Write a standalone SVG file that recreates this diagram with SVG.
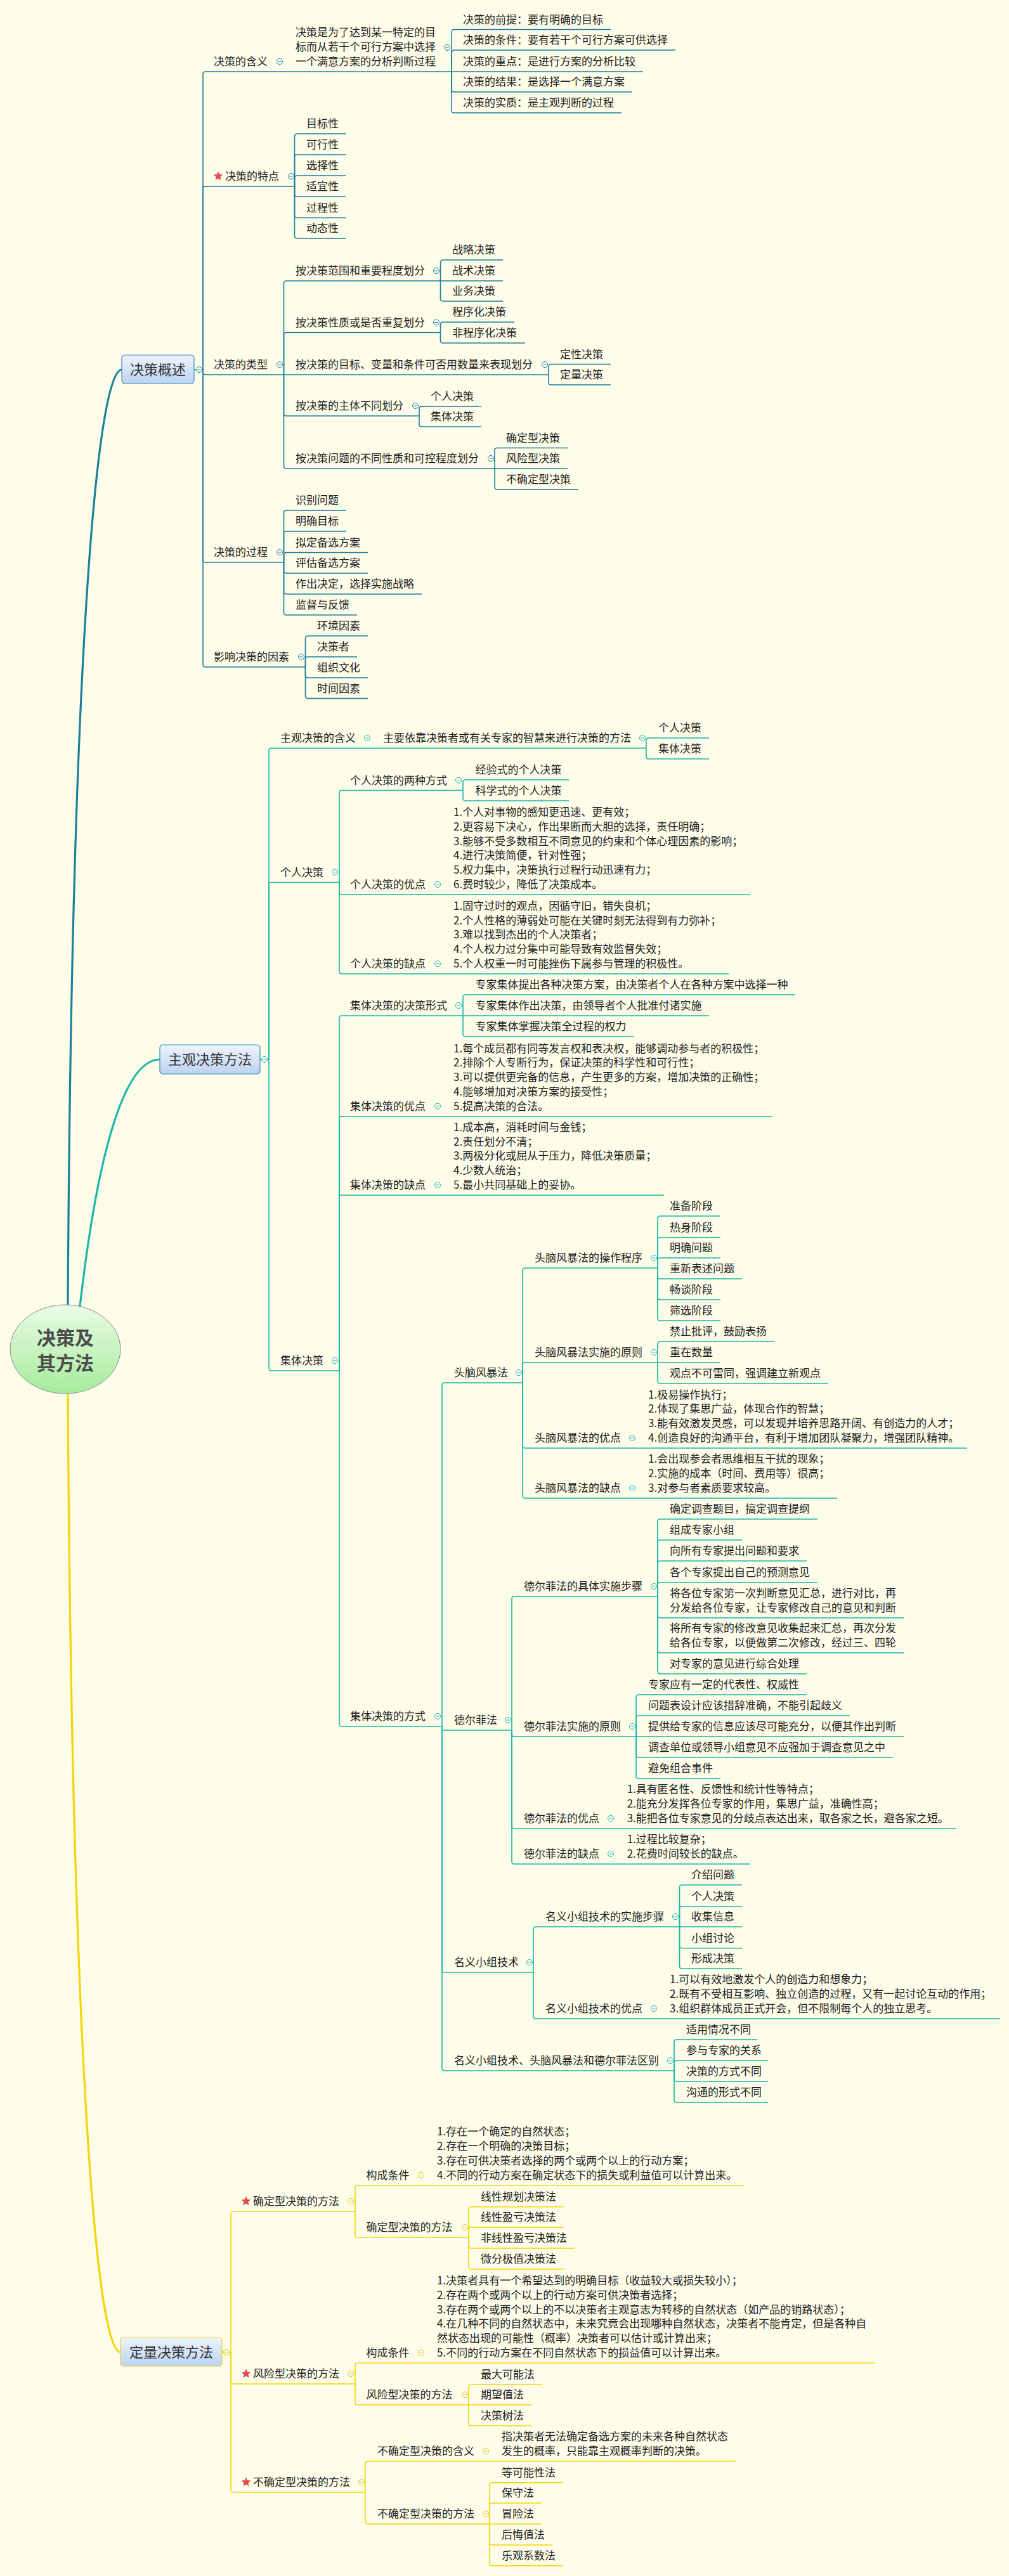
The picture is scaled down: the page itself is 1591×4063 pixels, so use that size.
<svg xmlns="http://www.w3.org/2000/svg" xmlns:xlink="http://www.w3.org/1999/xlink" width="1591" height="4063" viewBox="0 0 1591 4063">
<defs>
<style>
.t{font-family:'Noto Sans CJK SC','Noto Sans',sans-serif;font-size:17px;fill:#222}
.bt{font-family:'Noto Sans CJK SC','Noto Sans',sans-serif;font-size:22px;fill:#333;text-anchor:middle}
.rt{font-family:'Noto Sans CJK SC','Noto Sans',sans-serif;font-size:30px;font-weight:bold;fill:#4d4d4d;text-anchor:middle}
.c1{fill:none;stroke:#1d7f9c;stroke-width:1.6}
.c2{fill:none;stroke:#1cb5a6;stroke-width:1.6}
.c3{fill:none;stroke:#f7d40a;stroke-width:1.6}
.k1{color:#1d7f9c}.k2{color:#1cb5a6}.k3{color:#e8c400}
.st{fill:#e94848;stroke:#c83030;stroke-width:0.6}
</style>
<linearGradient id="gb" x1="0" y1="0" x2="0" y2="1"><stop offset="0" stop-color="#eef4fd"/><stop offset="1" stop-color="#bcd3f1"/></linearGradient>
<linearGradient id="gr" x1="0" y1="0" x2="0" y2="1"><stop offset="0" stop-color="#eafbe6"/><stop offset="1" stop-color="#a6ec9c"/></linearGradient>
<g id="tg"><circle r="4.5" fill="#fbfdf6" stroke="currentColor" stroke-width="1"/><path d="M-2.5,0H2.5" stroke="currentColor" stroke-width="1"/></g>
<polygon id="star" points="0,-7 1.76,-2.43 6.66,-2.16 2.85,0.93 4.11,5.66 0,3 -4.11,5.66 -2.85,0.93 -6.66,-2.16 -1.76,-2.43"/>
</defs>
<rect width="1591" height="4063" fill="#fdfde9"/>

<g id="connectors">
<path d="M107,2058C113,1000 155,583 192,583" fill="none" stroke="#1d7f9c" stroke-width="3.2"/>
<path d="M126,2061C150,1850 190,1671 252,1671" fill="none" stroke="#1cb5a6" stroke-width="3.2"/>
<path d="M107,2198C113,3200 150,3710 190,3710" fill="none" stroke="#f7d40a" stroke-width="3.2"/>
<g class="c1">
<path d="M306,583H320"/>
<path d="M320,583V117Q320,113 324,113H447"/>
<path d="M447,113H712"/>
<path d="M712,113V50.5Q712,46.5 716,46.5H963"/>
<path d="M712,113V83Q712,79 716,79H1065"/>
<path d="M712,113H1014"/>
<path d="M712,113V141Q712,145 716,145H997"/>
<path d="M712,113V174Q712,178 716,178H980"/>
<path d="M320,583V298Q320,294 324,294H464.5"/>
<path d="M464.5,294V215Q464.5,211 468.5,211H545.5"/>
<path d="M464.5,294V248Q464.5,244 468.5,244H545.5"/>
<path d="M464.5,294V281Q464.5,277 468.5,277H545.5"/>
<path d="M464.5,294V306Q464.5,310 468.5,310H545.5"/>
<path d="M464.5,294V339.5Q464.5,343.5 468.5,343.5H545.5"/>
<path d="M464.5,294V372Q464.5,376 468.5,376H545.5"/>
<path d="M320,583V587Q320,591 324,591H447.5"/>
<path d="M447.5,591V447Q447.5,443 451.5,443H694.5"/>
<path d="M447.5,591V528.5Q447.5,524.5 451.5,524.5H694.5"/>
<path d="M447.5,591H865"/>
<path d="M447.5,591V652Q447.5,656 451.5,656H661"/>
<path d="M447.5,591V735Q447.5,739 451.5,739H780"/>
<path d="M694.5,443V414Q694.5,410 698.5,410H793"/>
<path d="M694.5,443H793"/>
<path d="M694.5,443V471Q694.5,475 698.5,475H793"/>
<path d="M694.5,524.5V512Q694.5,508 698.5,508H811"/>
<path d="M694.5,524.5V537Q694.5,541 698.5,541H828"/>
<path d="M865,591V578.5Q865,574.5 869,574.5H963"/>
<path d="M865,591V603Q865,607 869,607H963"/>
<path d="M661,656V645Q661,641 665,641H759"/>
<path d="M661,656V669Q661,673 665,673H759"/>
<path d="M780,739V710.5Q780,706.5 784,706.5H895"/>
<path d="M780,739H895"/>
<path d="M780,739V768Q780,772 784,772H912"/>
<path d="M320,583V883Q320,887 324,887H447.5"/>
<path d="M447.5,887V809Q447.5,805 451.5,805H546"/>
<path d="M447.5,887V842Q447.5,838 451.5,838H546"/>
<path d="M447.5,887V875.5Q447.5,871.5 451.5,871.5H580"/>
<path d="M447.5,887V900Q447.5,904 451.5,904H580"/>
<path d="M447.5,887V933Q447.5,937 451.5,937H665"/>
<path d="M447.5,887V966Q447.5,970 451.5,970H563"/>
<path d="M320,583V1048Q320,1052 324,1052H481.5"/>
<path d="M481.5,1052V1007Q481.5,1003 485.5,1003H580"/>
<path d="M481.5,1052V1040Q481.5,1036 485.5,1036H563"/>
<path d="M481.5,1052V1065Q481.5,1069 485.5,1069H580"/>
<path d="M481.5,1052V1097.6Q481.5,1101.6 485.5,1101.6H580"/>
</g>
<g class="c2">
<path d="M410,1671H424"/>
<path d="M424,1671V1184Q424,1180 428,1180H585"/>
<path d="M585,1180H1019"/>
<path d="M1019,1180V1168Q1019,1164 1023,1164H1118"/>
<path d="M1019,1180V1193Q1019,1197 1023,1197H1118"/>
<path d="M424,1671V1395.6Q424,1391.6 428,1391.6H535"/>
<path d="M535,1391.6V1250.6Q535,1246.6 539,1246.6H730"/>
<path d="M730,1246.6V1234Q730,1230 734,1230H897"/>
<path d="M730,1246.6V1259Q730,1263 734,1263H897"/>
<path d="M535,1391.6V1407Q535,1411 539,1411H1183"/>
<path d="M535,1391.6V1532Q535,1536 539,1536H1149"/>
<path d="M424,1671V2158Q424,2162 428,2162H535"/>
<path d="M535,2162V1606Q535,1602 539,1602H730"/>
<path d="M730,1602V1573Q730,1569 734,1569H1254"/>
<path d="M730,1602H1118"/>
<path d="M730,1602V1631Q730,1635 734,1635H1000"/>
<path d="M535,2162V1764.7Q535,1760.7 539,1760.7H1218"/>
<path d="M535,2162V1889Q535,1885 539,1885H1047"/>
<path d="M535,2162V2719Q535,2723 539,2723H697"/>
<path d="M697,2723V2185Q697,2181 701,2181H824"/>
<path d="M824,2181V2004Q824,2000 828,2000H1037"/>
<path d="M1037,2000V1922Q1037,1918 1041,1918H1136"/>
<path d="M1037,2000V1955.7Q1037,1951.7 1041,1951.7H1136"/>
<path d="M1037,2000V1988Q1037,1984 1041,1984H1136"/>
<path d="M1037,2000V2013Q1037,2017 1041,2017H1170"/>
<path d="M1037,2000V2046Q1037,2050 1041,2050H1136"/>
<path d="M1037,2000V2079Q1037,2083 1041,2083H1136"/>
<path d="M824,2181V2153Q824,2149 828,2149H1037"/>
<path d="M1037,2149V2120Q1037,2116 1041,2116H1221"/>
<path d="M1037,2149H1136"/>
<path d="M1037,2149V2178Q1037,2182 1041,2182H1306"/>
<path d="M824,2181V2280Q824,2284 828,2284H1525"/>
<path d="M824,2181V2359Q824,2363 828,2363H1320"/>
<path d="M697,2723V2725Q697,2729 701,2729H807"/>
<path d="M807,2729V2522Q807,2518 811,2518H1037"/>
<path d="M1037,2518V2400Q1037,2396 1041,2396H1289"/>
<path d="M1037,2518V2433Q1037,2429 1041,2429H1170"/>
<path d="M1037,2518V2466Q1037,2462 1041,2462H1272"/>
<path d="M1037,2518V2499.7Q1037,2495.7 1041,2495.7H1289"/>
<path d="M1037,2518V2547.7Q1037,2551.7 1041,2551.7H1425"/>
<path d="M1037,2518V2603Q1037,2607 1041,2607H1425"/>
<path d="M1037,2518V2636Q1037,2640 1041,2640H1272"/>
<path d="M807,2729V2735Q807,2739 811,2739H1003"/>
<path d="M1003,2739V2677Q1003,2673 1007,2673H1272"/>
<path d="M1003,2739V2710Q1003,2706 1007,2706H1340"/>
<path d="M1003,2739H1425"/>
<path d="M1003,2739V2768Q1003,2772 1007,2772H1408"/>
<path d="M1003,2739V2801Q1003,2805 1007,2805H1136"/>
<path d="M807,2729V2880Q807,2884 811,2884H1508"/>
<path d="M807,2729V2936Q807,2940 811,2940H1183"/>
<path d="M697,2723V3107Q697,3111 701,3111H841"/>
<path d="M841,3111V3043Q841,3039 845,3039H1071.5"/>
<path d="M1071.5,3039V2977Q1071.5,2973 1075.5,2973H1170"/>
<path d="M1071.5,3039V3010.7Q1071.5,3006.7 1075.5,3006.7H1170"/>
<path d="M1071.5,3039H1170"/>
<path d="M1071.5,3039V3068.7Q1071.5,3072.7 1075.5,3072.7H1170"/>
<path d="M1071.5,3039V3101Q1071.5,3105 1075.5,3105H1170"/>
<path d="M841,3111V3180Q841,3184 845,3184H1577"/>
<path d="M697,2723V3262Q697,3266 701,3266H1063"/>
<path d="M1063,3266V3221Q1063,3217 1067,3217H1194"/>
<path d="M1063,3266V3254Q1063,3250 1067,3250H1211"/>
<path d="M1063,3266V3279Q1063,3283 1067,3283H1211"/>
<path d="M1063,3266V3312Q1063,3316 1067,3316H1211"/>
</g>
<g class="c3">
<path d="M350,3710H364"/>
<path d="M364,3710V3492Q364,3488 368,3488H560"/>
<path d="M560,3488V3450.7Q560,3446.7 564,3446.7H1173"/>
<path d="M560,3488V3525Q560,3529 564,3529H739"/>
<path d="M739,3529V3484.7Q739,3480.7 743,3480.7H889"/>
<path d="M739,3529V3517Q739,3513 743,3513H889"/>
<path d="M739,3529V3542Q739,3546 743,3546H906"/>
<path d="M739,3529V3575Q739,3579 743,3579H889"/>
<path d="M364,3710V3756Q364,3760 368,3760H560"/>
<path d="M560,3760V3731Q560,3727 564,3727H1380"/>
<path d="M560,3760V3789Q560,3793 564,3793H739"/>
<path d="M739,3793V3764.7Q739,3760.7 743,3760.7H855"/>
<path d="M739,3793H838"/>
<path d="M739,3793V3822Q739,3826 743,3826H838"/>
<path d="M364,3710V3927Q364,3931 368,3931H576"/>
<path d="M576,3931V3886Q576,3882 580,3882H1160"/>
<path d="M576,3931V3977Q576,3981 580,3981H772"/>
<path d="M772,3981V3919.7Q772,3915.7 776,3915.7H888"/>
<path d="M772,3981V3952Q772,3948 776,3948H854"/>
<path d="M772,3981H854"/>
<path d="M772,3981V4010Q772,4014 776,4014H871"/>
<path d="M772,3981V4042.7Q772,4046.7 776,4046.7H888"/>
</g>
</g>

<g id="root">
<ellipse cx="103" cy="2128" rx="87" ry="70" fill="url(#gr)" stroke="#8c8c8c" stroke-width="1"/>
<text class="rt" x="103" y="2121">决策及</text>
<text class="rt" x="103" y="2161">其方法</text>
</g>

<!-- Section 1 -->
<g id="n1"><rect x="192" y="560" width="114" height="45" rx="5" fill="url(#gb)" stroke="#3c8dbc" stroke-width="1.2"/><text class="bt" x="249" y="591">决策概述</text><use href="#tg" x="314" y="583" class="k1"/></g>
<g id="n1-1"><text class="t" x="337" y="103">决策的含义</text><use href="#tg" x="441" y="97" class="k1"/></g>
<g id="n1-1-1"><text class="t"><tspan x="466" y="57">决策是为了达到某一特定的目</tspan><tspan x="466" y="80">标而从若干个可行方案中选择</tspan><tspan x="466" y="103">一个满意方案的分析判断过程</tspan></text><use href="#tg" x="705" y="75" class="k1"/></g>
<g id="n1-1-1-1"><text class="t" x="730" y="37">决策的前提：要有明确的目标</text></g>
<g id="n1-1-1-2"><text class="t" x="730" y="69">决策的条件：要有若干个可行方案可供选择</text></g>
<g id="n1-1-1-3"><text class="t" x="730" y="103">决策的重点：是进行方案的分析比较</text></g>
<g id="n1-1-1-4"><text class="t" x="730" y="135">决策的结果：是选择一个满意方案</text></g>
<g id="n1-1-1-5"><text class="t" x="730" y="168">决策的实质：是主观判断的过程</text></g>
<g id="n1-2"><use href="#star" x="344" y="278" class="st"/><text class="t" x="355" y="284">决策的特点</text><use href="#tg" x="459" y="278" class="k1"/></g>
<g id="n1-2-1"><text class="t" x="483" y="201">目标性</text></g>
<g id="n1-2-2"><text class="t" x="483" y="234">可行性</text></g>
<g id="n1-2-3"><text class="t" x="483" y="267">选择性</text></g>
<g id="n1-2-4"><text class="t" x="483" y="300">适宜性</text></g>
<g id="n1-2-5"><text class="t" x="483" y="333.5">过程性</text></g>
<g id="n1-2-6"><text class="t" x="483" y="366">动态性</text></g>
<g id="n1-3"><text class="t" x="337" y="581">决策的类型</text><use href="#tg" x="441" y="575" class="k1"/></g>
<g id="n1-3-1"><text class="t" x="466" y="433">按决策范围和重要程度划分</text><use href="#tg" x="688" y="427" class="k1"/></g>
<g id="n1-3-1-1"><text class="t" x="713" y="400">战略决策</text></g>
<g id="n1-3-1-2"><text class="t" x="713" y="433">战术决策</text></g>
<g id="n1-3-1-3"><text class="t" x="713" y="465">业务决策</text></g>
<g id="n1-3-2"><text class="t" x="466" y="514.5">按决策性质或是否重复划分</text><use href="#tg" x="688" y="508.5" class="k1"/></g>
<g id="n1-3-2-1"><text class="t" x="713" y="498">程序化决策</text></g>
<g id="n1-3-2-2"><text class="t" x="713" y="531">非程序化决策</text></g>
<g id="n1-3-3"><text class="t" x="466" y="581">按决策的目标、变量和条件可否用数量来表现划分</text><use href="#tg" x="859" y="575" class="k1"/></g>
<g id="n1-3-3-1"><text class="t" x="883" y="564.5">定性决策</text></g>
<g id="n1-3-3-2"><text class="t" x="883" y="597">定量决策</text></g>
<g id="n1-3-4"><text class="t" x="466" y="646">按决策的主体不同划分</text><use href="#tg" x="655" y="640" class="k1"/></g>
<g id="n1-3-4-1"><text class="t" x="679" y="631">个人决策</text></g>
<g id="n1-3-4-2"><text class="t" x="679" y="663">集体决策</text></g>
<g id="n1-3-5"><text class="t" x="466" y="729">按决策问题的不同性质和可控程度划分</text><use href="#tg" x="774" y="723" class="k1"/></g>
<g id="n1-3-5-1"><text class="t" x="798" y="696.5">确定型决策</text></g>
<g id="n1-3-5-2"><text class="t" x="798" y="729">风险型决策</text></g>
<g id="n1-3-5-3"><text class="t" x="798" y="762">不确定型决策</text></g>
<g id="n1-4"><text class="t" x="337" y="877">决策的过程</text><use href="#tg" x="441" y="871" class="k1"/></g>
<g id="n1-4-1"><text class="t" x="466" y="795">识别问题</text></g>
<g id="n1-4-2"><text class="t" x="466" y="828">明确目标</text></g>
<g id="n1-4-3"><text class="t" x="466" y="861.5">拟定备选方案</text></g>
<g id="n1-4-4"><text class="t" x="466" y="894">评估备选方案</text></g>
<g id="n1-4-5"><text class="t" x="466" y="927">作出决定，选择实施战略</text></g>
<g id="n1-4-6"><text class="t" x="466" y="960">监督与反馈</text></g>
<g id="n1-5"><text class="t" x="337" y="1042">影响决策的因素</text><use href="#tg" x="475" y="1036" class="k1"/></g>
<g id="n1-5-1"><text class="t" x="500" y="993">环境因素</text></g>
<g id="n1-5-2"><text class="t" x="500" y="1026">决策者</text></g>
<g id="n1-5-3"><text class="t" x="500" y="1059">组织文化</text></g>
<g id="n1-5-4"><text class="t" x="500" y="1091.6">时间因素</text></g>

<!-- Section 2 -->
<g id="n2"><rect x="252" y="1648" width="158" height="46" rx="5" fill="url(#gb)" stroke="#3c8dbc" stroke-width="1.2"/><text class="bt" x="331" y="1679">主观决策方法</text><use href="#tg" x="417" y="1671" class="k2"/></g>
<g id="n2-1"><text class="t" x="442" y="1170">主观决策的含义</text><use href="#tg" x="579" y="1164" class="k2"/></g>
<g id="n2-1-1"><text class="t" x="604" y="1170">主要依靠决策者或有关专家的智慧来进行决策的方法</text><use href="#tg" x="1013" y="1164" class="k2"/></g>
<g id="n2-1-1-1"><text class="t" x="1038" y="1154">个人决策</text></g>
<g id="n2-1-1-2"><text class="t" x="1038" y="1187">集体决策</text></g>
<g id="n2-2"><text class="t" x="442" y="1381.6">个人决策</text><use href="#tg" x="528" y="1375.6" class="k2"/></g>
<g id="n2-2-1"><text class="t" x="552" y="1236.6">个人决策的两种方式</text><use href="#tg" x="723" y="1230.6" class="k2"/></g>
<g id="n2-2-1-1"><text class="t" x="749.5" y="1220">经验式的个人决策</text></g>
<g id="n2-2-1-2"><text class="t" x="749.5" y="1253">科学式的个人决策</text></g>
<g id="n2-2-2"><text class="t" x="552" y="1401">个人决策的优点</text><use href="#tg" x="690" y="1395" class="k2"/></g>
<g id="n2-2-2-1"><text class="t"><tspan x="715" y="1287">1.个人对事物的感知更迅速、更有效；</tspan><tspan x="715" y="1309.8">2.更容易下决心，作出果断而大胆的选择，责任明确；</tspan><tspan x="715" y="1332.6">3.能够不受多数相互不同意见的约束和个体心理因素的影响；</tspan><tspan x="715" y="1355.4">4.进行决策简便，针对性强；</tspan><tspan x="715" y="1378.2">5.权力集中，决策执行过程行动迅速有力；</tspan><tspan x="715" y="1401">6.费时较少，降低了决策成本。</tspan></text></g>
<g id="n2-2-3"><text class="t" x="552" y="1526">个人决策的缺点</text><use href="#tg" x="690" y="1520" class="k2"/></g>
<g id="n2-2-3-1"><text class="t"><tspan x="715" y="1434.8">1.固守过时的观点，因循守旧，错失良机；</tspan><tspan x="715" y="1457.6">2.个人性格的薄弱处可能在关键时刻无法得到有力弥补；</tspan><tspan x="715" y="1480.4">3.难以找到杰出的个人决策者；</tspan><tspan x="715" y="1503.2">4.个人权力过分集中可能导致有效监督失效；</tspan><tspan x="715" y="1526">5.个人权重一时可能挫伤下属参与管理的积极性。</tspan></text></g>
<g id="n2-3"><text class="t" x="442" y="2152">集体决策</text><use href="#tg" x="528" y="2146" class="k2"/></g>
<g id="n2-3-1"><text class="t" x="552" y="1592">集体决策的决策形式</text><use href="#tg" x="723" y="1586" class="k2"/></g>
<g id="n2-3-1-1"><text class="t" x="749.5" y="1559">专家集体提出各种决策方案，由决策者个人在各种方案中选择一种</text></g>
<g id="n2-3-1-2"><text class="t" x="749.5" y="1592">专家集体作出决策，由领导者个人批准付诸实施</text></g>
<g id="n2-3-1-3"><text class="t" x="749.5" y="1625">专家集体掌握决策全过程的权力</text></g>
<g id="n2-3-2"><text class="t" x="552" y="1750.7">集体决策的优点</text><use href="#tg" x="690" y="1744.7" class="k2"/></g>
<g id="n2-3-2-1"><text class="t"><tspan x="715" y="1659.5">1.每个成员都有同等发言权和表决权，能够调动参与者的积极性；</tspan><tspan x="715" y="1682.3">2.排除个人专断行为，保证决策的科学性和可行性；</tspan><tspan x="715" y="1705.1">3.可以提供更完备的信息，产生更多的方案，增加决策的正确性；</tspan><tspan x="715" y="1727.9">4.能够增加对决策方案的接受性；</tspan><tspan x="715" y="1750.7">5.提高决策的合法。</tspan></text></g>
<g id="n2-3-3"><text class="t" x="552" y="1875">集体决策的缺点</text><use href="#tg" x="690" y="1869" class="k2"/></g>
<g id="n2-3-3-1"><text class="t"><tspan x="715" y="1783.8">1.成本高，消耗时间与金钱；</tspan><tspan x="715" y="1806.6">2.责任划分不清；</tspan><tspan x="715" y="1829.4">3.两极分化或屈从于压力，降低决策质量；</tspan><tspan x="715" y="1852.2">4.少数人统治；</tspan><tspan x="715" y="1875">5.最小共同基础上的妥协。</tspan></text></g>
<g id="n2-3-4"><text class="t" x="552" y="2713">集体决策的方式</text><use href="#tg" x="690" y="2707" class="k2"/></g>
<g id="n2-3-4-1"><text class="t" x="716" y="2171">头脑风暴法</text><use href="#tg" x="818" y="2165" class="k2"/></g>
<g id="n2-3-4-1-1"><text class="t" x="843" y="1990">头脑风暴法的操作程序</text><use href="#tg" x="1031" y="1984" class="k2"/></g>
<g id="n2-3-4-1-1-1"><text class="t" x="1056" y="1908">准备阶段</text></g>
<g id="n2-3-4-1-1-2"><text class="t" x="1056" y="1941.7">热身阶段</text></g>
<g id="n2-3-4-1-1-3"><text class="t" x="1056" y="1974">明确问题</text></g>
<g id="n2-3-4-1-1-4"><text class="t" x="1056" y="2007">重新表述问题</text></g>
<g id="n2-3-4-1-1-5"><text class="t" x="1056" y="2040">畅谈阶段</text></g>
<g id="n2-3-4-1-1-6"><text class="t" x="1056" y="2073">筛选阶段</text></g>
<g id="n2-3-4-1-2"><text class="t" x="843" y="2139">头脑风暴法实施的原则</text><use href="#tg" x="1031" y="2133" class="k2"/></g>
<g id="n2-3-4-1-2-1"><text class="t" x="1056" y="2106">禁止批评，鼓励表扬</text></g>
<g id="n2-3-4-1-2-2"><text class="t" x="1056" y="2139">重在数量</text></g>
<g id="n2-3-4-1-2-3"><text class="t" x="1056" y="2172">观点不可雷同，强调建立新观点</text></g>
<g id="n2-3-4-1-3"><text class="t" x="843" y="2274">头脑风暴法的优点</text><use href="#tg" x="997" y="2268" class="k2"/></g>
<g id="n2-3-4-1-3-1"><text class="t"><tspan x="1022" y="2205.6">1.极易操作执行；</tspan><tspan x="1022" y="2228.4">2.体现了集思广益，体现合作的智慧；</tspan><tspan x="1022" y="2251.2">3.能有效激发灵感，可以发现并培养思路开阔、有创造力的人才；</tspan><tspan x="1022" y="2274">4.创造良好的沟通平台，有利于增加团队凝聚力，增强团队精神。</tspan></text></g>
<g id="n2-3-4-1-4"><text class="t" x="843" y="2353">头脑风暴法的缺点</text><use href="#tg" x="997" y="2347" class="k2"/></g>
<g id="n2-3-4-1-4-1"><text class="t"><tspan x="1022" y="2307.4">1.会出现参会者思维相互干扰的现象；</tspan><tspan x="1022" y="2330.2">2.实施的成本（时间、费用等）很高；</tspan><tspan x="1022" y="2353">3.对参与者素质要求较高。</tspan></text></g>
<g id="n2-3-4-2"><text class="t" x="716" y="2719">德尔菲法</text><use href="#tg" x="801" y="2713" class="k2"/></g>
<g id="n2-3-4-2-1"><text class="t" x="826" y="2508">德尔菲法的具体实施步骤</text><use href="#tg" x="1031" y="2502" class="k2"/></g>
<g id="n2-3-4-2-1-1"><text class="t" x="1056" y="2386">确定调查题目，搞定调查提纲</text></g>
<g id="n2-3-4-2-1-2"><text class="t" x="1056" y="2419">组成专家小组</text></g>
<g id="n2-3-4-2-1-3"><text class="t" x="1056" y="2452">向所有专家提出问题和要求</text></g>
<g id="n2-3-4-2-1-4"><text class="t" x="1056" y="2485.7">各个专家提出自己的预测意见</text></g>
<g id="n2-3-4-2-1-5"><text class="t"><tspan x="1056" y="2518.9">将各位专家第一次判断意见汇总，进行对比，再</tspan><tspan x="1056" y="2541.7">分发给各位专家，让专家修改自己的意见和判断</tspan></text></g>
<g id="n2-3-4-2-1-6"><text class="t"><tspan x="1056" y="2574.2">将所有专家的修改意见收集起来汇总，再次分发</tspan><tspan x="1056" y="2597">给各位专家，以便做第二次修改，经过三、四轮</tspan></text></g>
<g id="n2-3-4-2-1-7"><text class="t" x="1056" y="2630">对专家的意见进行综合处理</text></g>
<g id="n2-3-4-2-2"><text class="t" x="826" y="2729">德尔菲法实施的原则</text><use href="#tg" x="997" y="2723" class="k2"/></g>
<g id="n2-3-4-2-2-1"><text class="t" x="1022" y="2663">专家应有一定的代表性、权威性</text></g>
<g id="n2-3-4-2-2-2"><text class="t" x="1022" y="2696">问题表设计应该措辞准确，不能引起歧义</text></g>
<g id="n2-3-4-2-2-3"><text class="t" x="1022" y="2729">提供给专家的信息应该尽可能充分，以便其作出判断</text></g>
<g id="n2-3-4-2-2-4"><text class="t" x="1022" y="2762">调查单位或领导小组意见不应强加于调查意见之中</text></g>
<g id="n2-3-4-2-2-5"><text class="t" x="1022" y="2795">避免组合事件</text></g>
<g id="n2-3-4-2-3"><text class="t" x="826" y="2874">德尔菲法的优点</text><use href="#tg" x="963" y="2868" class="k2"/></g>
<g id="n2-3-4-2-3-1"><text class="t"><tspan x="988.7" y="2828.4">1.具有匿名性、反馈性和统计性等特点；</tspan><tspan x="988.7" y="2851.2">2.能充分发挥各位专家的作用，集思广益，准确性高；</tspan><tspan x="988.7" y="2874">3.能把各位专家意见的分歧点表达出来，取各家之长，避各家之短。</tspan></text></g>
<g id="n2-3-4-2-4"><text class="t" x="826" y="2930">德尔菲法的缺点</text><use href="#tg" x="963" y="2924" class="k2"/></g>
<g id="n2-3-4-2-4-1"><text class="t"><tspan x="988.7" y="2907.2">1.过程比较复杂；</tspan><tspan x="988.7" y="2930">2.花费时间较长的缺点。</tspan></text></g>
<g id="n2-3-4-3"><text class="t" x="716" y="3101">名义小组技术</text><use href="#tg" x="835" y="3095" class="k2"/></g>
<g id="n2-3-4-3-1"><text class="t" x="860" y="3029">名义小组技术的实施步骤</text><use href="#tg" x="1065" y="3023" class="k2"/></g>
<g id="n2-3-4-3-1-1"><text class="t" x="1090" y="2963">介绍问题</text></g>
<g id="n2-3-4-3-1-2"><text class="t" x="1090" y="2996.7">个人决策</text></g>
<g id="n2-3-4-3-1-3"><text class="t" x="1090" y="3029">收集信息</text></g>
<g id="n2-3-4-3-1-4"><text class="t" x="1090" y="3062.7">小组讨论</text></g>
<g id="n2-3-4-3-1-5"><text class="t" x="1090" y="3095">形成决策</text></g>
<g id="n2-3-4-3-2"><text class="t" x="860" y="3174">名义小组技术的优点</text><use href="#tg" x="1031" y="3168" class="k2"/></g>
<g id="n2-3-4-3-2-1"><text class="t"><tspan x="1056" y="3128.4">1.可以有效地激发个人的创造力和想象力；</tspan><tspan x="1056" y="3151.2">2.既有不受相互影响、独立创造的过程，又有一起讨论互动的作用；</tspan><tspan x="1056" y="3174">3.组织群体成员正式开会，但不限制每个人的独立思考。</tspan></text></g>
<g id="n2-3-4-4"><text class="t" x="716" y="3256">名义小组技术、头脑风暴法和德尔菲法区别</text><use href="#tg" x="1057" y="3250" class="k2"/></g>
<g id="n2-3-4-4-1"><text class="t" x="1082" y="3207">适用情况不同</text></g>
<g id="n2-3-4-4-2"><text class="t" x="1082" y="3240">参与专家的关系</text></g>
<g id="n2-3-4-4-3"><text class="t" x="1082" y="3273">决策的方式不同</text></g>
<g id="n2-3-4-4-4"><text class="t" x="1082" y="3306">沟通的形式不同</text></g>

<!-- Section 3 -->
<g id="n3"><rect x="190" y="3687" width="160" height="45" rx="5" fill="url(#gb)" stroke="#e8cc40" stroke-width="1.2"/><text class="bt" x="270" y="3718">定量决策方法</text><use href="#tg" x="357" y="3710" class="k3"/></g>
<g id="n3-1"><use href="#star" x="388" y="3472" class="st"/><text class="t" x="399" y="3478">确定型决策的方法</text><use href="#tg" x="553" y="3472" class="k3"/></g>
<g id="n3-1-1"><text class="t" x="577.5" y="3436.7">构成条件</text><use href="#tg" x="664" y="3430.7" class="k3"/></g>
<g id="n3-1-1-1"><text class="t"><tspan x="689" y="3368.3">1.存在一个确定的自然状态；</tspan><tspan x="689" y="3391.1">2.存在一个明确的决策目标；</tspan><tspan x="689" y="3413.9">3.存在可供决策者选择的两个或两个以上的行动方案；</tspan><tspan x="689" y="3436.7">4.不同的行动方案在确定状态下的损失或利益值可以计算出来。</tspan></text></g>
<g id="n3-1-2"><text class="t" x="577.5" y="3519">确定型决策的方法</text><use href="#tg" x="733" y="3513" class="k3"/></g>
<g id="n3-1-2-1"><text class="t" x="758" y="3470.7">线性规划决策法</text></g>
<g id="n3-1-2-2"><text class="t" x="758" y="3503">线性盈亏决策法</text></g>
<g id="n3-1-2-3"><text class="t" x="758" y="3536">非线性盈亏决策法</text></g>
<g id="n3-1-2-4"><text class="t" x="758" y="3569">微分极值决策法</text></g>
<g id="n3-2"><use href="#star" x="388" y="3744" class="st"/><text class="t" x="399" y="3750">风险型决策的方法</text><use href="#tg" x="553" y="3744" class="k3"/></g>
<g id="n3-2-1"><text class="t" x="577.5" y="3717">构成条件</text><use href="#tg" x="664" y="3711" class="k3"/></g>
<g id="n3-2-1-1"><text class="t"><tspan x="689" y="3603">1.决策者具有一个希望达到的明确目标（收益较大或损失较小）；</tspan><tspan x="689" y="3625.8">2.存在两个或两个以上的行动方案可供决策者选择；</tspan><tspan x="689" y="3648.6">3.存在两个或两个以上的不以决策者主观意志为转移的自然状态（如产品的销路状态）；</tspan><tspan x="689" y="3671.4">4.在几种不同的自然状态中，未来究竟会出现哪种自然状态，决策者不能肯定，但是各种自</tspan><tspan x="689" y="3694.2">然状态出现的可能性（概率）决策者可以估计或计算出来；</tspan><tspan x="689" y="3717">5.不同的行动方案在不同自然状态下的损益值可以计算出来。</tspan></text></g>
<g id="n3-2-2"><text class="t" x="577.5" y="3783">风险型决策的方法</text><use href="#tg" x="733" y="3777" class="k3"/></g>
<g id="n3-2-2-1"><text class="t" x="758" y="3750.7">最大可能法</text></g>
<g id="n3-2-2-2"><text class="t" x="758" y="3783">期望值法</text></g>
<g id="n3-2-2-3"><text class="t" x="758" y="3816">决策树法</text></g>
<g id="n3-3"><use href="#star" x="388" y="3915" class="st"/><text class="t" x="399" y="3921">不确定型决策的方法</text><use href="#tg" x="570" y="3915" class="k3"/></g>
<g id="n3-3-1"><text class="t" x="595" y="3872">不确定型决策的含义</text><use href="#tg" x="766" y="3866" class="k3"/></g>
<g id="n3-3-1-1"><text class="t"><tspan x="791" y="3849.2">指决策者无法确定备选方案的未来各种自然状态</tspan><tspan x="791" y="3872">发生的概率，只能靠主观概率判断的决策。</tspan></text></g>
<g id="n3-3-2"><text class="t" x="595" y="3971">不确定型决策的方法</text><use href="#tg" x="766" y="3965" class="k3"/></g>
<g id="n3-3-2-1"><text class="t" x="791" y="3905.7">等可能性法</text></g>
<g id="n3-3-2-2"><text class="t" x="791" y="3938">保守法</text></g>
<g id="n3-3-2-3"><text class="t" x="791" y="3971">冒险法</text></g>
<g id="n3-3-2-4"><text class="t" x="791" y="4004">后悔值法</text></g>
<g id="n3-3-2-5"><text class="t" x="791" y="4036.7">乐观系数法</text></g>
</svg>
